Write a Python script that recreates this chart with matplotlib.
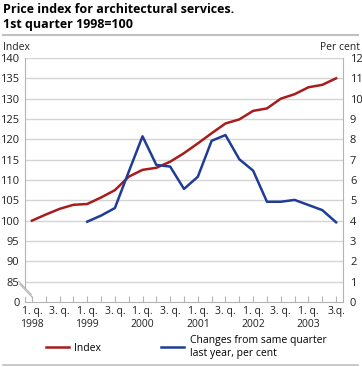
import matplotlib.pyplot as plt
from matplotlib.lines import Line2D

plt.rcParams['font.family'] = ['Open Sans', 'DejaVu Sans']

# quarters 1998 Q1 .. 2003 Q3
quarters = ["1. q.\n1998", "", "3. q.", "", "1. q.\n1999", "", "3. q.", "",
            "1. q.\n2000", "", "3. q.", "", "1. q.\n2001", "", "3. q.", "",
            "1. q.\n2002", "", "3. q.", "", "1. q.\n2003", "", "3.q."]
index_vals = [100.0, 101.5, 102.9, 103.9, 104.1, 105.7, 107.5, 110.8, 112.5,
              113.0, 114.5, 116.6, 119.0, 121.5, 123.9, 124.9, 127.0, 127.6,
              130.0, 131.1, 132.8, 133.4, 135.0]
change_vals = [None, None, None, None, 3.95, 4.25, 4.62, 6.4, 8.15, 6.74, 6.66,
               5.56, 6.16, 7.93, 8.21, 7.02, 6.46, 4.93, 4.93, 5.02, 4.77, 4.52, 3.92]
left_ticks = [80, 85, 90, 95, 100, 105, 110, 115, 120, 125, 130, 135, 140]
left_labels = ["0", "85", "90", "95", "100", "105", "110", "115", "120", "125",
               "130", "135", "140"]
right_ticks = list(range(0, 13))

red = "#a81c1c"
blue = "#1f3c96"
grid = "#d4d4d4"
axis_col = "#b4b4b4"

W, H = 362, 367
fig = plt.figure(figsize=(W / 100, H / 100), dpi=100)
ax = fig.add_axes([25 / W, 1 - 302 / H, 318 / W, 244 / H])
ax2 = ax.twinx()

x = list(range(len(quarters)))
ax.plot(x, index_vals, color=red, lw=1.8, label="Index", zorder=3)
cx = [i for i, v in zip(x, change_vals) if v is not None]
cy = [v for v in change_vals if v is not None]
ax2.plot(cx, cy, color=blue, lw=1.8,
         label="Changes from same quarter\nlast year, per cent", zorder=3)

ax.set_xlim(-0.5, len(quarters) - 0.5)
ax.set_ylim(80, 140)
ax2.set_ylim(0, 12)
ax.set_yticks(left_ticks)
ax.set_yticklabels(left_labels)
ax2.set_yticks(right_ticks)
ax.set_xticks(x)
ax.set_xticklabels(quarters)

for v in left_ticks[1:]:
    ax.axhline(v, color=grid, lw=1, zorder=1)

for s in ["top"]:
    ax.spines[s].set_visible(False)
    ax2.spines[s].set_visible(False)
ax2.spines["left"].set_visible(False)
ax2.spines["bottom"].set_visible(False)
for sp in [ax.spines["left"], ax.spines["bottom"], ax2.spines["right"]]:
    sp.set_color(axis_col)
ax.spines["right"].set_visible(False)
ax.spines["left"].set_bounds(83.7, 140)
ax.plot([-0.5, -0.5], [80, 81.2], color=axis_col, lw=0.8, clip_on=False)
for off in [0, 0.012]:
    ax.plot([-0.02 + off * 0.3, 0.02 + off * 0.3], [0.085 - off, 0.03 - off],
            transform=ax.transAxes, color=axis_col, lw=0.8, clip_on=False)

ax.tick_params(axis="x", direction="in", length=4, color=axis_col,
               labelsize=7.5, pad=3, labelcolor="#222222")
ax.tick_params(axis="y", length=0, labelsize=8, pad=4, labelcolor="#222222")
ax2.tick_params(axis="y", length=0, labelsize=8, pad=5, labelcolor="#222222")

fig.text(3 / W, 1 - 3 / H, "Price index for architectural services.\n1st quarter 1998=100",
         fontsize=9.0, fontweight="bold", va="top", ha="left", linespacing=1.2)
fig.add_artist(Line2D([3 / W, 358 / W], [1 - 35 / H, 1 - 35 / H], color="#c0c0c0", lw=1.5))
fig.text(3 / W, 1 - 47 / H, "Index", fontsize=7.5, va="center", ha="left", color="#222222")
fig.text(360 / W, 1 - 47 / H, "Per cent", fontsize=7.5, va="center", ha="right", color="#222222")

h1, l1 = ax.get_legend_handles_labels()
h2, l2 = ax2.get_legend_handles_labels()
fig.legend(h1 + h2, l1 + l2, loc="upper left", bbox_to_anchor=(46 / W, 1 - 335 / H),
           ncol=2, frameon=False, fontsize=7.5, handlelength=2.2, handletextpad=0.5,
           columnspacing=5.8, borderaxespad=0, borderpad=0)
fig.add_artist(Line2D([3 / W, 358 / W], [1 - 365 / H, 1 - 365 / H], color="#c0c0c0", lw=1.2))

fig.savefig("out.png", dpi=100)
